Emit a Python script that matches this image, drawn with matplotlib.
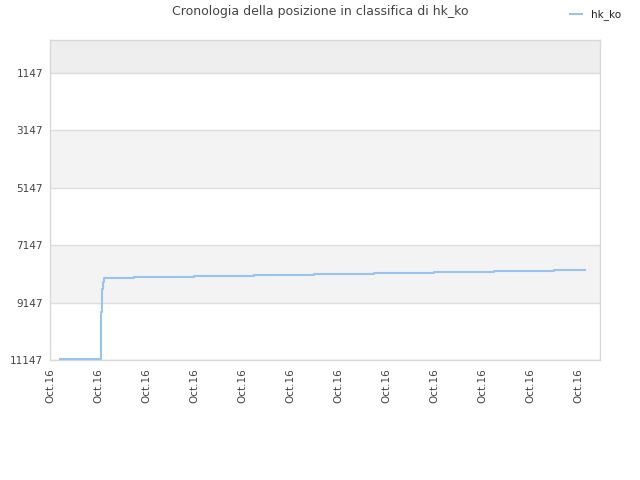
import pandas as pd
import matplotlib
matplotlib.use('Agg')
import matplotlib.pyplot as plt
from matplotlib.dates import DateFormatter, DayLocator
from matplotlib.lines import Line2D

# Rank history (step line, lower rank = better)
times = ['2016-10-05 05:00', '2016-10-06 01:15', '2016-10-06 01:45', '2016-10-06 02:15',
         '2016-10-06 02:45', '2016-10-06 18:00', '2016-10-08 00:00', '2016-10-09 06:00',
         '2016-10-10 12:00', '2016-10-11 18:00', '2016-10-13 00:00', '2016-10-14 06:00',
         '2016-10-15 12:00', '2016-10-16 03:30']
ranks = [11110, 9475, 8674, 8430, 8279, 8245, 8220, 8185, 8151, 8116, 8081, 8046, 8011, 8011]
yticks = [1147, 3147, 5147, 7147, 9147, 11147]
title = 'Cronologia della posizione in classifica di hk_ko'
player = 'hk_ko'

dates = pd.to_datetime(times)
line_color = '#97c4f2'
text_color = '#444444'

fig = plt.figure(figsize=(6.4, 4.8), dpi=100)
ax = fig.add_axes([50 / 640, 120 / 480, 550 / 640, 320 / 480])

# Alternating background bands
ax.axhspan(0, yticks[0], color='#eeeeee', zorder=0, lw=0)
for i in range(1, len(yticks)):
    if i % 2 == 0:
        ax.axhspan(yticks[i - 1], yticks[i], color='#f3f3f3', zorder=0, lw=0)
for t in yticks:
    ax.axhline(t, color='#dddddd', lw=1, zorder=1)

ax.step(dates, ranks, where='post', color=line_color, lw=1.5, zorder=3)

x0 = pd.Timestamp('2016-10-05')
ax.set_xlim(x0, x0 + pd.Timedelta(days=550 / 48))
ax.set_ylim(11147, 0)
ax.set_yticks(yticks)
ax.set_yticklabels([str(t) for t in yticks])
ax.xaxis.set_major_locator(DayLocator())
ax.xaxis.set_major_formatter(DateFormatter('%b.%y'))
ax.tick_params(axis='both', length=0, labelsize=7.5, labelcolor=text_color, pad=5)
ax.tick_params(axis='x', labelrotation=90, pad=6)

for s in ax.spines.values():
    s.set_color('#d8d8d8')
    s.set_linewidth(1)

fig.text(0.5, 1 - 12 / 480, title, ha='center', va='center', fontsize=9, color=text_color)

handle = Line2D([], [], color=line_color, lw=1.5)
fig.legend([handle], [player], loc='center right', bbox_to_anchor=(1 - 12 / 640, 1 - 15 / 480),
           frameon=False, fontsize=7.5, handlelength=1.2, handletextpad=0.8,
           labelcolor='#222222', borderaxespad=0.3)

fig.savefig('out.png', dpi=100)
